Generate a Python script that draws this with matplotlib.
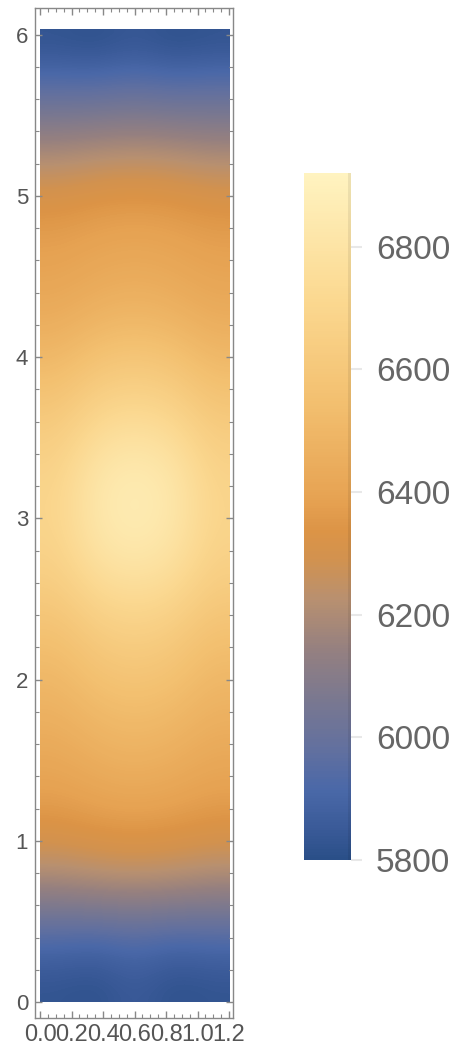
import numpy as np
import matplotlib
matplotlib.use('Agg')
import matplotlib.pyplot as plt
from matplotlib.colors import LinearSegmentedColormap
from matplotlib.ticker import MultipleLocator

plt.rcParams['font.family'] = ['Liberation Sans', 'DejaVu Sans']

# grid: columns at x_vals, rows every 0.25 in y (0 .. 6.03)
x_vals = [0.0, 0.3, 0.6, 0.9, 1.2]
y_range = (0.0, 6.03)
col_x00 = [5830, 5915, 6080, 6230, 6330, 6390, 6430, 6470, 6510, 6560, 6620, 6670, 6690,
           6680, 6640, 6580, 6510, 6450, 6410, 6380, 6330, 6230, 6100, 5960, 5830]
col_x03 = [5815, 5900, 6090, 6250, 6350, 6415, 6465, 6515, 6570, 6630, 6710, 6790, 6830,
           6820, 6750, 6660, 6575, 6490, 6435, 6400, 6350, 6250, 6110, 5960, 5815]
col_x06 = [5860, 5930, 6100, 6260, 6360, 6430, 6485, 6535, 6595, 6660, 6740, 6830, 6870,
           6860, 6790, 6690, 6600, 6510, 6450, 6410, 6360, 6260, 6120, 5980, 5845]
col_x09 = [5815, 5900, 6090, 6250, 6350, 6415, 6465, 6515, 6570, 6630, 6710, 6790, 6830,
           6820, 6750, 6660, 6575, 6490, 6435, 6400, 6350, 6250, 6110, 5960, 5815]
col_x12 = [5830, 5915, 6080, 6230, 6330, 6390, 6430, 6470, 6510, 6560, 6620, 6670, 6690,
           6680, 6640, 6580, 6510, 6450, 6410, 6380, 6330, 6230, 6100, 5970, 5830]

cbar_ticks = [5800, 6000, 6200, 6400, 6600, 6800]
vmin, vmax = 5800, 6920

grid = np.array([col_x00, col_x03, col_x06, col_x09, col_x12]).T

cmap = LinearSegmentedColormap.from_list('m10', [
    (0.000, '#2a4f88'),
    (0.044, '#3a5a98'),
    (0.100, '#4a68a8'),
    (0.160, '#62709f'),
    (0.233, '#7a7890'),
    (0.306, '#958080'),
    (0.379, '#b89070'),
    (0.437, '#d2924f'),
    (0.480, '#dc9446'),
    (0.524, '#e6a252'),
    (0.670, '#f3c070'),
    (0.815, '#fbd890'),
    (1.000, '#fff3c0'),
])

fig = plt.figure(figsize=(4.56, 10.46), dpi=100)
ax = fig.add_axes([35 / 456, 28 / 1046, 198 / 456, 1010 / 1046])
im = ax.imshow(grid, origin='lower', aspect='auto', cmap=cmap, vmin=vmin, vmax=vmax,
               extent=[x_vals[0], x_vals[-1], y_range[0], y_range[1]],
               interpolation='bicubic')
ax.set_xlim(-0.032, 1.225)
ax.set_ylim(-0.099, 6.166)

grey = '#888888'
for s in ax.spines.values():
    s.set_color(grey)
    s.set_linewidth(1)
ax.xaxis.set_major_locator(MultipleLocator(0.2))
ax.xaxis.set_minor_locator(MultipleLocator(0.05))
ax.yaxis.set_major_locator(MultipleLocator(1))
ax.yaxis.set_minor_locator(MultipleLocator(0.2))
ax.xaxis.set_major_formatter(plt.FuncFormatter(lambda v, p: f'{v:.1f}'))
ax.tick_params(which='both', direction='in', top=True, right=True, color=grey,
               labelcolor='#555555')
ax.tick_params(which='major', length=5, width=1)
ax.tick_params(which='minor', length=3, width=0.8)
ax.tick_params(axis='x', pad=4, labelsize=17)
ax.tick_params(axis='y', pad=5, labelsize=16)

cax = fig.add_axes([304 / 456, 186 / 1046, 47 / 456, 687 / 1046])
cb = fig.colorbar(im, cax=cax, ticks=cbar_ticks)
cb.outline.set_visible(False)
cax.axvspan(0.93, 1.0, color='black', alpha=0.07, lw=0)
cax.tick_params(direction='out', length=8, width=1.5, color='#e8e8e8',
                labelcolor='#666666', labelsize=24, pad=10)

fig.savefig('out.png', dpi=100)
